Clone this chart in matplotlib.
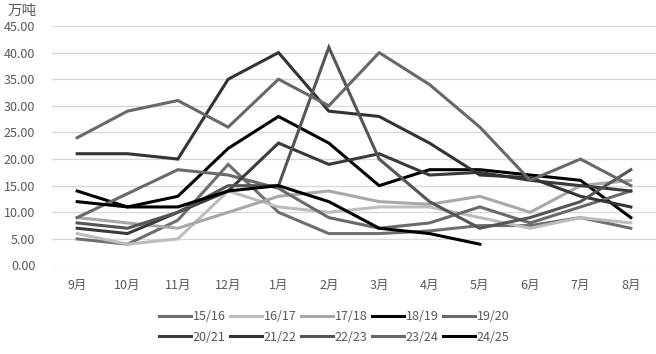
import matplotlib.pyplot as plt

plt.rcParams['font.family'] = ['Noto Sans CJK SC', 'DejaVu Sans']

months = ["9月", "10月", "11月", "12月", "1月", "2月", "3月", "4月", "5月", "6月", "7月", "8月"]

s1516 = [5, 4, 8.5, 19, 10, 6, 6, 6.5, 7.5, 7.5, 9, 7]
s1617 = [6, 4, 5, 14, 11, 10, 11, 11, 9, 7, 9, 8]
s1718 = [9, 8, 7, 10, 13, 14, 12, 11.5, 13, 10, 15, 16]
s1819 = [14, 11, 13, 22, 28, 23, 15, 18, 18, 17, 16, 9]
s1920 = [9, 13.5, 18, 17, 14.5, 9, 7, 8, 11, 8, 11, 14]
s2021 = [7, 6, 10, 14, 23, 19, 21, 17, 17.5, 16, 15, 14]
s2122 = [21, 21, 20, 35, 40, 29, 28, 23, 17, 16.5, 13, 11]
s2223 = [8, 7, 10, 15, 15, 41, 20, 12, 7, 9, 12, 18]
s2324 = [24, 29, 31, 26, 35, 30, 40, 34, 26, 16, 20, 15]
s2425 = [12, 11, 11, 14, 15, 12, 7, 6, 4]

series = [
    ("15/16", s1516, "#6e6e6e"),
    ("16/17", s1617, "#bdbdbd"),
    ("17/18", s1718, "#a8a8a8"),
    ("18/19", s1819, "#000000"),
    ("19/20", s1920, "#6a6a6a"),
    ("20/21", s2021, "#3a3a3a"),
    ("21/22", s2122, "#333333"),
    ("22/23", s2223, "#555555"),
    ("23/24", s2324, "#686868"),
    ("24/25", s2425, "#000000"),
]

fig = plt.figure(figsize=(6.56, 3.54), dpi=100)
ax = fig.add_axes([52 / 656, 1 - 265.5 / 354, 604 / 656, 239.5 / 354])

handles = []
for name, vals, col in series:
    h, = ax.plot(range(len(vals)), vals, color=col, lw=2.2, label=name,
                 solid_joinstyle='miter')
    handles.append(h)

ax.set_xlim(-0.5, 11.5)
ax.set_ylim(0, 45)
ax.set_yticks(range(0, 46, 5))
ax.set_yticklabels([f"{v:.2f}" for v in range(0, 46, 5)])
ax.set_xticks(range(12))
ax.set_xticklabels(months)
ax.tick_params(axis='both', length=0, labelsize=9, colors="#595959")
ax.tick_params(axis='y', pad=12)
ax.tick_params(axis='x', pad=10)
ax.grid(axis='y', color="#d9d9d9", lw=1)
ax.set_axisbelow(True)
for sp in ax.spines.values():
    sp.set_visible(False)

fig.text(8 / 656, 1 - 11 / 354, "万吨", fontsize=10.5, color="#595959", va='center')

# legend row by row: matplotlib fills columns first, so interleave
order = [0, 5, 1, 6, 2, 7, 3, 8, 4, 9]
fig.legend([handles[i] for i in order], [series[i][0] for i in order],
           loc='center', bbox_to_anchor=(334 / 656, 1 - 327 / 354), ncol=5,
           frameon=False, fontsize=9, handlelength=2.6, handletextpad=0.1,
           columnspacing=0.35, labelspacing=0.6, labelcolor="#595959")

fig.savefig("out.png", dpi=100)
